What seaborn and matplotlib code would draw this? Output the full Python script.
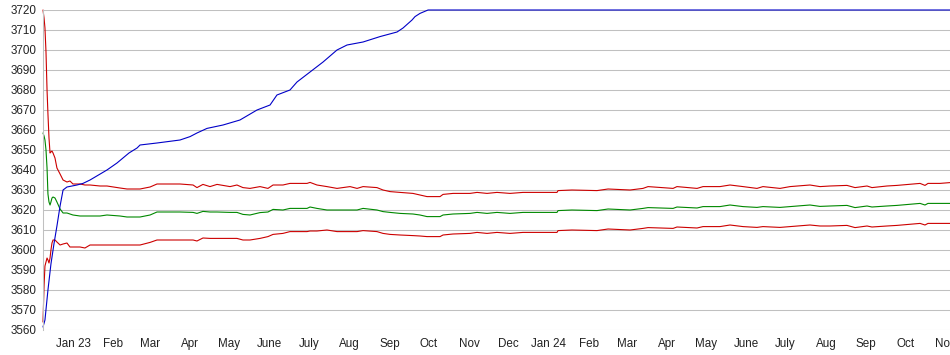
import numpy as np
import pandas as pd
import matplotlib
matplotlib.use("Agg")
import matplotlib.pyplot as plt
import seaborn as sns

# ---------------- data ----------------
START = "2022-12-09"

# band series share one sampling grid (days since START)
band_days = [0, 0.8, 1.5, 2.3, 3.1, 3.8, 4.6, 5.4, 6.1, 6.9, 7.7, 9.2, 10.7, 13.1, 15.4,
             18.4, 20.7, 23.0, 28.4, 32.2, 36.1, 43.8, 49.1, 59.1, 64.5, 74.5, 82.2, 87.5,
             105.2, 115.2, 118.2, 122.8, 128.2, 133.6, 143.6, 148.9, 153.5, 158.9, 166.6,
             172.7, 176.6, 184.2, 189.6, 202.7, 205.0, 210.3, 218.0, 225.7, 235.7, 241.1,
             245.7, 256.4, 261.0, 266.4, 274.1, 284.0, 289.4, 294.8, 304.8, 307.1, 314.8,
             327.8, 333.2, 340.9, 348.5, 358.5, 368.5, 394.6, 395.4, 406.1, 425.3, 433.8,
             450.7, 460.6, 464.5, 483.7, 486.7, 502.1, 506.7, 519.7, 527.4, 537.4, 548.1,
             552.7, 565.8, 573.5, 588.8, 596.5, 604.2, 617.2, 623.4, 632.6, 636.4, 647.9,
             655.6, 673.3, 677.1, 679.4, 688.6, 696.3]

upper = [3720, 3716, 3711, 3699, 3680, 3668, 3656, 3648.5, 3649, 3649.5, 3648.5, 3646, 3641,
         3638, 3635, 3634, 3634.5, 3633, 3633, 3632.5, 3632.5, 3632, 3632, 3631, 3630.5,
         3630.5, 3631.5, 3633, 3633, 3632.5, 3631.2, 3632.8, 3631.7, 3632.8, 3631.7, 3632.5,
         3631.2, 3630.8, 3631.7, 3630.8, 3632.5, 3632.5, 3633.3, 3633.3, 3633.8, 3632.5,
         3631.7, 3630.8, 3631.7, 3630.8, 3631.7, 3631.2, 3630, 3629.2, 3628.8, 3628.3,
         3627.5, 3626.7, 3626.7, 3627.8, 3628.3, 3628.3, 3628.8, 3628.3, 3628.8, 3628.3,
         3628.8, 3628.8, 3629.7, 3630, 3629.7, 3630.5, 3630, 3630.8, 3631.7, 3630.8, 3631.7,
         3630.8, 3631.7, 3631.7, 3632.5, 3631.7, 3630.8, 3631.7, 3630.8, 3631.7, 3632.5,
         3631.7, 3632, 3632.3, 3631.2, 3632, 3631.2, 3632, 3632.3, 3633.3, 3632.3, 3633.3,
         3633.3, 3633.7]

middle = [3658.5, 3657, 3655, 3650, 3641, 3628, 3624, 3622.5, 3624, 3626, 3626.5, 3626, 3624,
          3620.5, 3618.5, 3618.5, 3618, 3617.5, 3617, 3617, 3617, 3617, 3617.5, 3617, 3616.5,
          3616.5, 3617.5, 3619, 3619, 3618.8, 3618.3, 3619.3, 3619, 3619, 3618.8, 3618.8,
          3617.8, 3617.5, 3618.7, 3619, 3620.3, 3620, 3620.8, 3620.8, 3621.5, 3620.8, 3620,
          3620, 3620, 3620, 3620.8, 3620, 3619.2, 3618.8, 3618.3, 3618, 3617.5, 3616.7,
          3616.7, 3617.5, 3618, 3618.3, 3618.8, 3618.3, 3618.8, 3618.3, 3618.8, 3618.8,
          3619.7, 3620, 3619.7, 3620.5, 3620, 3620.8, 3621.2, 3620.8, 3621.5, 3621, 3621.7,
          3621.7, 3622.5, 3621.7, 3621.3, 3621.7, 3621.3, 3621.7, 3622.5, 3621.8, 3622,
          3622.3, 3621.2, 3622, 3621.5, 3622, 3622.3, 3623.3, 3622.5, 3623.3, 3623.3, 3623.3]

lower = [3564, 3582, 3592, 3594, 3596, 3595, 3593.5, 3596, 3600, 3603.5, 3605, 3605, 3604,
         3602.5, 3603, 3603.5, 3601.5, 3601.5, 3601.5, 3601, 3602.5, 3602.5, 3602.5, 3602.5,
         3602.5, 3602.5, 3603.8, 3605, 3605, 3605, 3604.5, 3606, 3605.8, 3605.8, 3605.8,
         3605.8, 3605, 3605, 3605.8, 3606.7, 3607.8, 3608.3, 3609.2, 3609.2, 3609.5, 3609.5,
         3610, 3609.2, 3609.2, 3609.2, 3609.7, 3609.2, 3608.3, 3607.8, 3607.5, 3607.2, 3607,
         3606.7, 3606.7, 3607.5, 3608, 3608.3, 3608.8, 3608.3, 3608.8, 3608.3, 3608.8,
         3608.8, 3609.7, 3610, 3609.7, 3610.5, 3610, 3610.8, 3611.2, 3610.8, 3611.5, 3611,
         3611.7, 3611.7, 3612.5, 3611.7, 3611.3, 3611.7, 3611.3, 3611.7, 3612.5, 3612, 3612,
         3612.3, 3611.2, 3612, 3611.5, 3612, 3612.3, 3613.3, 3612.5, 3613.3, 3613.3, 3613.3]

blue_days = [0, 1.5, 3.8, 6.1, 8.4, 10.7, 13.1, 15.4, 18.4, 26.1, 30.7, 36.1, 49.1, 56.8,
             66.0, 72.2, 74.5, 87.5, 105.2, 112.9, 118.2, 125.9, 138.2, 151.2, 164.3, 174.3,
             179.6, 189.6, 195.0, 205.0, 215.0, 225.7, 233.4, 245.7, 258.7, 271.8, 276.4,
             283.3, 285.6, 289.4, 295.6, 696.3]
blue = [3561.5, 3565, 3580, 3593, 3603, 3612, 3622, 3630, 3631.5, 3632.5, 3633.3, 3635, 3640,
        3643.5, 3648.5, 3651, 3652.5, 3653.5, 3655, 3656.7, 3658.5, 3660.8, 3662.5, 3665,
        3670, 3672.5, 3677.5, 3680, 3684, 3689, 3694, 3700, 3702.5, 3704, 3706.7, 3709, 3711,
        3715, 3716.7, 3718.3, 3720, 3720]

tick_dates = pd.date_range("2023-01-01", "2024-11-01", freq="MS")
tick_labels = ["Jan 23", "Feb", "Mar", "Apr", "May", "June", "July", "Aug", "Sep", "Oct",
               "Nov", "Dec", "Jan 24", "Feb", "Mar", "Apr", "May", "June", "July", "Aug",
               "Sep", "Oct", "Nov"]
y_ticks = list(range(3560, 3721, 10))

# ---------------- plot ----------------
sns.set_style("white")
plt.rcParams["font.family"] = ["Liberation Sans", "DejaVu Sans"]

start = pd.Timestamp(START)
bx = start + pd.to_timedelta(band_days, unit="D")
blx = start + pd.to_timedelta(blue_days, unit="D")

fig = plt.figure(figsize=(9.5, 3.55), dpi=100)
ax = fig.add_axes([43 / 950, 25 / 355, 907 / 950, 320 / 355])

lw = 0.8
sns.lineplot(x=bx, y=upper, color="#cc0000", lw=lw, ax=ax, estimator=None, sort=False)
sns.lineplot(x=bx, y=middle, color="#008800", lw=lw, ax=ax, estimator=None, sort=False)
sns.lineplot(x=bx, y=lower, color="#cc0000", lw=lw, ax=ax, estimator=None, sort=False)
sns.lineplot(x=blx, y=blue, color="#0000c8", lw=lw, ax=ax, estimator=None, sort=False)

for l in ax.get_lines():
    l.set_clip_on(False)

ax.set_xlim(start, start + pd.Timedelta(days=696.3))
ax.set_ylim(3560, 3720)
ax.set_yticks(y_ticks)
ax.set_yticklabels([str(v) for v in y_ticks])
ax.set_xticks(tick_dates)
ax.set_xticklabels(tick_labels)
ax.tick_params(axis="both", length=0, labelsize=8.4, colors="#222222")
ax.tick_params(axis="y", pad=5)
ax.tick_params(axis="x", pad=6)
ax.set_xlabel("")
ax.set_ylabel("")

ax.grid(False)
for v in y_ticks:
    ax.axhline(v, color="#c0c0c0", lw=0.75, zorder=0)

for s in ["top", "right", "bottom"]:
    ax.spines[s].set_visible(False)
ax.spines["left"].set_color("#c0c0c0")
ax.spines["left"].set_linewidth(0.75)

fig.savefig("out.png", dpi=100)
